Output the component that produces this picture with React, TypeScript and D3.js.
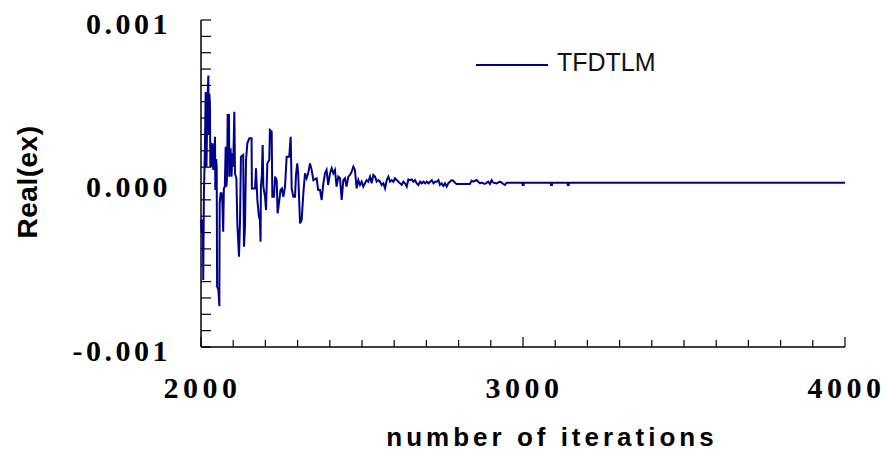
import React from "react";
import * as d3 from "d3";

// ---- data ----
const seriesName = "TFDTLM";
const iterations = [
  2000, 2002, 2004, 2006, 2007, 2009, 2012, 2014.5, 2017, 2020, 2022.8, 2024, 2026, 2028, 2029, 2030,
  2033, 2036, 2038, 2041, 2043.5, 2044.5, 2047, 2048.7, 2050, 2054, 2057, 2058, 2061, 2064, 2066, 2069,
  2071, 2074, 2076.6, 2079, 2081, 2082.8, 2087, 2088, 2090, 2092, 2095, 2097, 2100, 2103.5, 2105.6, 2110,
  2112.8, 2118, 2121, 2124, 2131, 2133.5, 2136.6, 2139.8, 2144, 2150, 2157, 2158, 2168, 2170.8, 2175, 2180,
  2183, 2185, 2186, 2189, 2191.5, 2193.6, 2198.8, 2202, 2206, 2212, 2214, 2219.5, 2221.5, 2226.7, 2230, 2235,
  2238, 2242, 2247, 2251.5, 2255.7, 2261, 2266, 2274, 2278.5, 2281.6, 2286.7, 2292, 2295, 2299, 2302, 2307.5,
  2312.6, 2317.8, 2323, 2328, 2333, 2338.5, 2343.7, 2349, 2359, 2364, 2369.6, 2374.7, 2380, 2385, 2390, 2395,
  2400.6, 2405.8, 2411, 2416, 2421, 2426.5, 2431.7, 2436.9, 2442, 2447, 2452, 2457.5, 2462.7, 2468, 2473, 2478,
  2483.4, 2488.6, 2493.8, 2499, 2504, 2509.3, 2514.5, 2519.7, 2524.9, 2530, 2535, 2540.4, 2545.6, 2550.8, 2556, 2561,
  2566.4, 2571.6, 2576.8, 2582, 2587, 2592.3, 2597.5, 2602.7, 2607.9, 2613, 2618, 2623.4, 2628.6, 2633.8, 2639, 2644,
  2649.3, 2654.5, 2659.7, 2664.9, 2670, 2675, 2680.4, 2685.6, 2690.8, 2696, 2701, 2706.4, 2711.6, 2716.8, 2722, 2727,
  2732.3, 2737.5, 2742, 2747.4, 2752.6, 2757.8, 2763, 2768, 2773.3, 2778.5, 2783.6, 2788.8, 2794, 2809.5, 2835, 2840.6,
  2845.7, 2856, 2861, 2866.5, 2871.7, 2876.8, 2882, 2892, 2897.5, 2902.7, 2908, 2918, 2928.6, 2933.7, 2939, 2944,
  2949, 2998, 2999, 3002, 3003, 3086, 3087, 3090, 3091, 3138, 3139, 3142, 3143, 4000,
];
const values = [
  -2.2e-4, -3.0e-4, -2.2e-4, -3.0e-4, -5.9e-4, -0.6e-4, 2.0e-4, 5.6e-4, 1.0e-4, 5.0e-4, 6.6e-4, 3.0e-4, 5.5e-4, 4.7e-4, 1.0e-4, 2.5e-4,
  1.0e-4, 2.46e-4, 0.83e-4, 1.5e-4, 2.86e-4, -0.4e-4, 1.5e-4, 1.03e-4, -6.3e-4, -6.5e-4, -7.5e-4, -1.2e-4, -0.6e-4, -0.6e-4, -1.0e-4, -2.95e-4,
  -0.3e-4, -0.2e-4, 2.25e-4, -0.2e-4, 0.4e-4, 4.19e-4, 4.19e-4, 0.42e-4, 2.0e-4, 2.05e-4, 0.42e-4, 1.85e-4, 1.03e-4, 4.39e-4, 0.6e-4, 0.3e-4,
  -2.44e-4, -4.48e-4, -2.44e-4, 1.64e-4, 1.74e-4, -3.87e-4, -2.64e-4, 1.44e-4, 2.46e-4, 2.76e-4, 2.76e-4, -0.3e-4, -0.3e-4, 0.93e-4, -1.0e-4, -2.03e-4,
  -2.23e-4, -3.56e-4, -0.19e-4, 0.5e-4, 2.35e-4, -0.19e-4, -0.81e-4, -1.62e-4, 1.23e-4, 1.44e-4, 3.27e-4, 3.17e-4, -0.81e-4, -0.81e-4, 0.42e-4, 0.21e-4,
  -1.82e-4, -1.21e-4, -0.4e-4, -0.3e-4, -0.81e-4, -0.19e-4, 1.64e-4, 1.64e-4, 2.86e-4, -0.3e-4, -0.81e-4, -0.81e-4, 0.52e-4, 1.23e-4, 0.52e-4, -2.44e-4,
  -2.23e-4, -0.6e-4, 0.62e-4, 0.32e-4, 0.62e-4, 1.23e-4, 0.83e-4, 0.21e-4, 0.32e-4, -0.4e-4, -0.4e-4, -1.01e-4, 0.01e-4, 0.62e-4, 0.83e-4, -0.09e-4,
  0.62e-4, 0.93e-4, 0.62e-4, 0.83e-4, -0.19e-4, 0.42e-4, 0.32e-4, -1.01e-4, 0.21e-4, 0.32e-4, -0.19e-4, 0.42e-4, 0.52e-4, 0.72e-4, 1.03e-4, 0.83e-4,
  -0.3e-4, 0.21e-4, -0.09e-4, 0.11e-4, -0.19e-4, 0.01e-4, 0.21e-4, 0.11e-4, 0.42e-4, 0.01e-4, 0.52e-4, 0.42e-4, 0.11e-4, 0.21e-4, 0.11e-4, -0.09e-4,
  0.01e-4, -0.3e-4, 0.21e-4, 0.42e-4, 0.11e-4, 0.21e-4, 0.11e-4, 0.32e-4, 0.21e-4, 0.11e-4, 0.01e-4, -0.09e-4, 0.11e-4, 0.01e-4, -0.19e-4, 0.25e-4,
  0.21e-4, 0.25e-4, 0.11e-4, 0.21e-4, 0.01e-4, -0.09e-4, 0.11e-4, 0.01e-4, 0.11e-4, 0.01e-4, 0.11e-4, 0.01e-4, 0.11e-4, 0.21e-4, 0.01e-4, 0.11e-4,
  0.11e-4, 0.21e-4, -0.09e-4, 0.01e-4, -0.15e-4, 0.01e-4, -0.19e-4, 0.01e-4, 0.11e-4, 0.21e-4, 0.17e-4, 0.05e-4, -0.03e-4, -0.03e-4, -0.03e-4, 0.17e-4,
  0.11e-4, 0.21e-4, 0.11e-4, 0.01e-4, 0.05e-4, 0.01e-4, -0.03e-4, 0.11e-4, -0.03e-4, 0.21e-4, 0.05e-4, 0.01e-4, 0.11e-4, 0.05e-4, -0.03e-4, -0.09e-4,
  0.05e-4, 0.05e-4, -0.09e-4, -0.09e-4, 0.05e-4, 0.05e-4, -0.09e-4, -0.09e-4, 0.05e-4, 0.05e-4, -0.09e-4, -0.09e-4, 0.05e-4, 0.05e-4,
];
const xDomain = [2000, 4000];
const yDomain = [-0.001, 0.001];
const xTickValues = [2000, 3000, 4000];
const xTickLabels = ["2000", "3000", "4000"];
const yTickValues = [0.001, 0, -0.001];
const yTickLabels = ["0.001", "0.000", "-0.001"];
const xTitle = "number of iterations";
const yTitle = "Real(ex)";

const W = 885;
const H = 458;
const plot = { left: 201, right: 845, top: 20, bottom: 347 };
const LINE = "#00008b";

export default function App() {
  const x = d3.scaleLinear().domain(xDomain).range([plot.left, plot.right]);
  const y = d3.scaleLinear().domain(yDomain).range([plot.bottom, plot.top]);
  const pts = iterations.map((it, i) => [it, values[i]] as [number, number]);
  const line = d3
    .line<[number, number]>()
    .x((d) => x(d[0]))
    .y((d) => y(d[1]));

  const xMinor = x.ticks(20);
  const yMinor = y.ticks(20);
  const serif = "'Liberation Serif', 'Times New Roman', serif";
  const sans = "'Liberation Sans', Arial, sans-serif";

  return (
    <svg
      width={W}
      height={H}
      style={{ position: "absolute", left: 0, top: 0, background: "#fff" }}
    >
      <rect x={0} y={0} width={W} height={H} fill="#fff" />
      {/* y ticks */}
      {yMinor.map((v, i) => (
        <line key={"yt" + i} x1={plot.left} x2={plot.left + 10} y1={y(v)} y2={y(v)} stroke="#000" strokeWidth={1.2} />
      ))}
      {/* x ticks */}
      {xMinor.map((v, i) => {
        const major = v % 1000 === 0;
        return (
          <line key={"xt" + i} x1={x(v)} x2={x(v)} y1={plot.bottom} y2={plot.bottom - (major ? 10 : 7)} stroke="#000" strokeWidth={1.2} />
        );
      })}
      {/* axes */}
      <line x1={plot.left} x2={plot.left} y1={plot.top} y2={plot.bottom} stroke="#000" strokeWidth={1.5} />
      <line x1={plot.left} x2={plot.right} y1={plot.bottom} y2={plot.bottom} stroke="#000" strokeWidth={1.5} />

      {/* data */}
      <path d={line(pts) || ""} fill="none" stroke={LINE} strokeWidth={2} strokeLinejoin="miter" />

      {/* y tick labels */}
      {yTickValues.map((v, i) => (
        <text
          key={"yl" + i}
          x={171}
          y={y(v) + 13.5}
          textAnchor="end"
          fontFamily={serif}
          fontWeight="bold"
          fontSize={30}
          letterSpacing={3.5}
          fill="#000"
        >
          {yTickLabels[i]}
        </text>
      ))}
      {/* x tick labels */}
      {xTickValues.map((v, i) => (
        <text
          key={"xl" + i}
          x={x(v) + 1.5}
          y={398}
          textAnchor="middle"
          fontFamily={serif}
          fontWeight="bold"
          fontSize={30}
          letterSpacing={4.5}
          fill="#000"
        >
          {xTickLabels[i]}
        </text>
      ))}

      {/* axis titles */}
      <text x={552} y={446} textAnchor="middle" fontFamily={sans} fontWeight="bold" fontSize={26} letterSpacing={4} fill="#000">
        {xTitle}
      </text>
      <text
        transform={`translate(37, 182) rotate(-90)`}
        textAnchor="middle"
        fontFamily={sans}
        fontWeight="bold"
        fontSize={28}
        letterSpacing={0.5}
        fill="#000"
      >
        {yTitle}
      </text>

      {/* legend */}
      <line x1={476} x2={548} y1={65} y2={65} stroke={LINE} strokeWidth={1.8} />
      <text x={557} y={71} fontFamily={sans} fontSize={25} fill="#111">
        {seriesName}
      </text>
    </svg>
  );
}
